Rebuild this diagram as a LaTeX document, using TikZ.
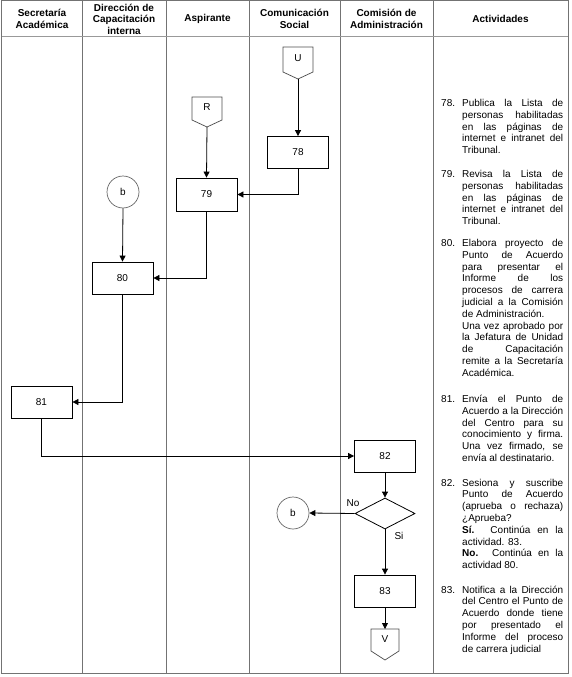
\documentclass[tikz,border=0pt]{standalone}
\usepackage{fontspec}
\setmainfont{Liberation Sans}
\usetikzlibrary{arrows.meta,shapes.geometric,calc}
\tikzset{
  x=1pt,y=-1pt,
  grid/.style={draw=black!55,line width=0.9pt},
  hdr/.style={font=\bfseries\fontsize{10}{11.6}\selectfont,align=center,inner sep=0pt},
  box/.style={draw=black,line width=0.8pt,minimum width=61pt,minimum height=32pt,inner sep=0pt,font=\fontsize{10}{12}\selectfont},
  conn/.style={draw=black!60,line width=0.7pt,circle,minimum size=32pt,inner sep=0pt,font=\fontsize{10}{12}\selectfont},
  dec/.style={draw=black,line width=0.8pt,diamond,minimum width=60pt,minimum height=31pt,inner sep=0pt},
  offp/.style={draw=black!70,line width=0.7pt},
  lbl/.style={inner sep=0pt,font=\fontsize{10}{12}\selectfont},
  flow/.style={draw=black,line width=0.8pt,-{Triangle[length=6pt,width=6pt]}},
  item/.style={inner sep=0pt,font=\fontsize{10}{11.8}\selectfont},
  num/.style={inner sep=0pt,font=\fontsize{10}{11.8}\selectfont}
}
\newcommand{\jl}[1]{\makebox[101pt][s]{#1}}
\newenvironment{lns}{\begin{tabular}[t]{@{}l@{}}}{\end{tabular}}
\begin{document}
\begin{tikzpicture}
\useasboundingbox (0,0) rectangle (572,677);
% table
\draw[grid] (1.5,0.5) rectangle (568,673.5);
\foreach \xx in {82,166,249,340,433} \draw[grid] (\xx,0.5) -- (\xx,673.5);
\draw[draw=black!40,line width=1.3pt] (1.5,36.5) -- (568,36.5);
% headers
\node[hdr] (h1) at (42,19) {Secretaría\\Académica};
\node[hdr] (h2) at (124,19) {Dirección de\\Capacitación\\interna};
\node[hdr] (h3) at (207.5,19) {Aspirante};
\node[hdr] (h4) at (294.5,19) {Comunicación\\Social};
\node[hdr] (h5) at (386.5,19) {Comisión de\\Administración};
\node[hdr] (h6) at (500.5,19) {Actividades};
% off-page connectors
\draw[offp] (283,47) -- (313,47) -- (313,72) -- (298,79) -- (283,72) -- cycle;
\node[lbl] (U) at (298,58) {U};
\coordinate (Ut) at (298,79);
\draw[offp] (192,97) -- (222,97) -- (222,120) -- (207,127) -- (192,120) -- cycle;
\node[lbl] (R) at (207,107) {R};
\coordinate (Rt) at (207,127);
\draw[offp] (371,629) -- (399,629) -- (399,651) -- (385,660) -- (371,651) -- cycle;
\node[lbl] (V) at (385,639) {V};
\coordinate (Vt) at (385,629);
% boxes
\node[box] (b78) at (298,152.5) {78};
\node[box,minimum height=33pt] (b79) at (206.5,194.5) {79};
\node[box] (b80) at (122.5,278) {80};
\node[box] (b81) at (41.5,402) {81};
\node[box] (b82) at (385,456) {82};
\node[box] (b83) at (385,591) {83};
\node[dec] (d) at (385,513.5) {};
\node[conn] (c1) at (123,192) {b};
\node[conn] (c2) at (293,513) {b};
% flows
\draw[flow] (Ut) -- (b78.north);
\draw[flow] (b78.south) |- (b79.east);
\draw[flow] (Rt) -- (b79.north);
\draw[flow] (b79.south) |- (b80.east);
\draw[flow] (c1.south) -- (b80.north);
\draw[flow] (b80.south) |- (b81.east);
\draw[flow] (b81.south) |- (b82.west);
\draw[flow] (b82.south) -- (d.north);
\draw[flow] (d.west) -- (c2.east);
\draw[flow] (d.south) -- (b83.north);
\draw[flow] (b83.south) -- (Vt);
\node[lbl] (no) at (353,503) {No};
\node[lbl] (si) at (399,536) {Si};
% activities
\node[num,anchor=base west] (n78) at (441,106.5) {78.};
\node[item,anchor=base west] (t78) at (462,106.5) {\begin{lns}\jl{Publica la Lista de}\\\jl{personas habilitadas}\\\jl{en las páginas de}\\\jl{internet e intranet del}\\Tribunal.\end{lns}};
\node[num,anchor=base west] (n79) at (441,177.5) {79.};
\node[item,anchor=base west] (t79) at (462,177.5) {\begin{lns}\jl{Revisa la Lista de}\\\jl{personas habilitadas}\\\jl{en las páginas de}\\\jl{internet e intranet del}\\Tribunal.\end{lns}};
\node[num,anchor=base west] (n80) at (441,246.5) {80.};
\node[item,anchor=base west] (t80) at (462,246.5) {\begin{lns}\jl{Elabora proyecto de}\\\jl{Punto de Acuerdo}\\\jl{para presentar el}\\\jl{Informe de los}\\\jl{procesos de carrera}\\\jl{judicial a la Comisión}\\de Administración.\\\jl{Una vez aprobado por}\\\jl{la Jefatura de Unidad}\\\jl{de Capacitación}\\\jl{remite a la Secretaría}\\Académica.\end{lns}};
\node[num,anchor=base west] (n81) at (441,402.5) {81.};
\node[item,anchor=base west] (t81) at (462,402.5) {\begin{lns}\jl{Envía el Punto de}\\\jl{Acuerdo a la Dirección}\\\jl{del Centro para su}\\\jl{conocimiento y firma.}\\\jl{Una vez firmado, se}\\envía al destinatario.\end{lns}};
\node[num,anchor=base west] (n82) at (441,486) {82.};
\node[item,anchor=base west] (t82) at (462,486) {\begin{lns}\jl{Sesiona y suscribe}\\\jl{Punto de Acuerdo}\\\jl{(aprueba o rechaza)}\\¿Aprueba?\\\jl{\textbf{Sí.} Continúa en la}\\actividad. 83.\\\jl{\textbf{No.} Continúa en la}\\actividad 80.\end{lns}};
\node[num,anchor=base west] (n83) at (441,593) {83.};
\node[item,anchor=base west] (t83) at (462,593) {\begin{lns}\jl{Notifica a la Dirección}\\\jl{del Centro el Punto de}\\\jl{Acuerdo donde tiene}\\\jl{por presentado el}\\\jl{Informe del proceso}\\de carrera judicial\end{lns}};
\end{tikzpicture}
\end{document}
